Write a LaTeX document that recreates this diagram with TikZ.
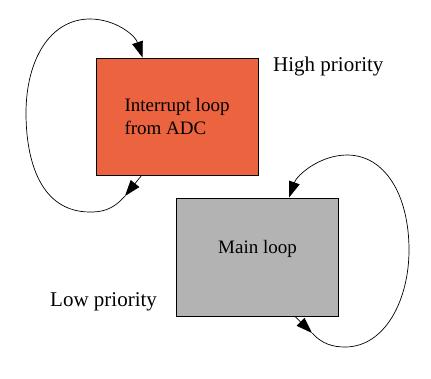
\documentclass[tikz,border=0pt]{standalone}
\usepackage{fontspec}
\setmainfont{Liberation Serif}
\usetikzlibrary{arrows.meta}
\definecolor{adcred}{RGB}{236,99,64}
\definecolor{loopgray}{RGB}{179,179,179}
\tikzset{
    loopbox/.style={draw,line width=.9pt,minimum width=162pt,minimum height=117pt,inner sep=0pt,
        font=\fontsize{19}{22.3}\selectfont,align=left},
    priolabel/.style={anchor=base west,inner sep=0pt,font=\fontsize{21}{25}\selectfont},
    loopline/.style={line width=.7pt,-{Triangle[length=16pt,width=11pt]}}
}
\begin{document}
\begin{tikzpicture}[x=1pt,y=-1pt]
    \useasboundingbox (0,0) rectangle (431,378);
    \node[loopbox,fill=adcred] (adc) at (177,116.5) {Interrupt loop\\from ADC};
    \node[loopbox,fill=loopgray,minimum height=118pt,text depth=20pt] (main) at (257.5,257) {Main loop};
    \node[priolabel] (high) at (273,71) {High priority};
    \node[priolabel] (low) at (50,306) {Low priority};
    % interrupt loop, out of the bottom and back in at the top
    \coordinate (adcout) at (125,196);
    \draw[loopline] ([xshift=46pt]adc.south west) -- (adcout);
    \draw[loopline] (adcout) .. controls (112,211) and (100,212) .. (90,212)
        .. controls (40,212) and (26,160) .. (26,113)
        .. controls (26,60) and (50,19) .. (90,19)
        .. controls (115,19) and (135,35) .. ([xshift=47pt]adc.north west);
    % main loop, the same on the right
    \coordinate (mainout) at (312,333);
    \draw[loopline] ([xshift=119pt]main.south west) -- (mainout);
    \draw[loopline] (mainout) .. controls (322,344) and (333,347) .. (345,347)
        .. controls (385,347) and (409,300) .. (409,250)
        .. controls (409,195) and (385,155) .. (347,155)
        .. controls (320,155) and (297,175) .. ([xshift=113pt]main.north west);
\end{tikzpicture}
\end{document}
